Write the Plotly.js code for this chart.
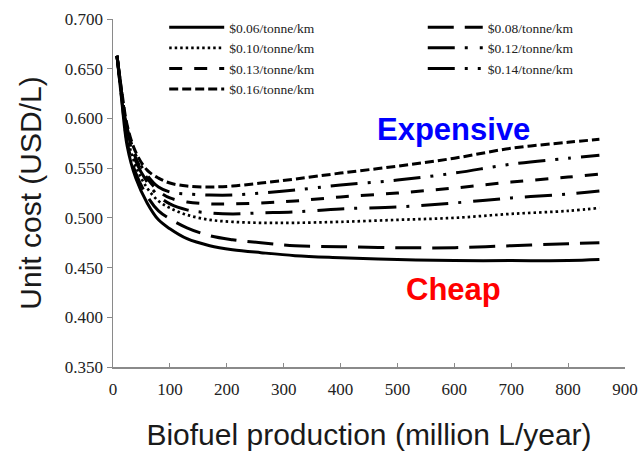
<!DOCTYPE html>
<html>
<head>
<meta charset="utf-8">
<script src="https://cdn.plot.ly/plotly-3.0.1.min.js"></script>
<style>html,body{margin:0;padding:0;background:#fff;}#chart{width:641px;height:455px;}</style>
</head>
<body>
<div id="chart"></div>
<script>
// Biofuel production (million L/year)
const production = [7, 15, 25, 40, 60, 80, 100, 130, 170, 210, 260, 320, 400, 500, 600, 700, 800, 855];

// Unit cost (USD/L) per transport price
const cost006 = [0.663, 0.620, 0.572, 0.540, 0.515, 0.498, 0.489, 0.479, 0.472, 0.468, 0.465, 0.462, 0.460, 0.458, 0.457, 0.457, 0.457, 0.458];
const cost008 = [0.663, 0.622, 0.576, 0.545, 0.522, 0.507, 0.499, 0.490, 0.482, 0.478, 0.475, 0.472, 0.471, 0.470, 0.470, 0.472, 0.474, 0.475];
const cost010 = [0.663, 0.624, 0.582, 0.552, 0.530, 0.517, 0.510, 0.503, 0.498, 0.496, 0.495, 0.495, 0.496, 0.498, 0.500, 0.504, 0.507, 0.510];
const cost012 = [0.663, 0.626, 0.586, 0.557, 0.536, 0.522, 0.514, 0.508, 0.505, 0.504, 0.505, 0.506, 0.509, 0.511, 0.515, 0.520, 0.524, 0.527];
const cost013 = [0.663, 0.627, 0.588, 0.560, 0.540, 0.527, 0.520, 0.516, 0.514, 0.514, 0.515, 0.517, 0.521, 0.525, 0.530, 0.536, 0.541, 0.544];
const cost014 = [0.663, 0.628, 0.590, 0.563, 0.543, 0.531, 0.526, 0.524, 0.523, 0.523, 0.525, 0.528, 0.533, 0.538, 0.545, 0.554, 0.560, 0.563];
const cost016 = [0.663, 0.629, 0.593, 0.566, 0.548, 0.540, 0.535, 0.532, 0.531, 0.532, 0.535, 0.539, 0.545, 0.552, 0.560, 0.570, 0.576, 0.579];

const seriesNames = ["$0.06/tonne/km", "$0.08/tonne/km", "$0.10/tonne/km", "$0.12/tonne/km", "$0.13/tonne/km", "$0.14/tonne/km", "$0.16/tonne/km"];
const seriesValues = [cost006, cost008, cost010, cost012, cost013, cost014, cost016];

const styles = [
  {dash: "solid", width: 3, legend: "legend"},
  {dash: "26px,11px", width: 3, legend: "legend2"},
  {dash: "2.5px,3px", width: 2.7, legend: "legend"},
  {dash: "27px,10px,3px,12px", width: 3, legend: "legend2"},
  {dash: "13px,12px", width: 3, legend: "legend"},
  {dash: "27px,10px,3px,10px,3px,10px", width: 3, legend: "legend2"},
  {dash: "9px,4px", width: 3, legend: "legend"}
];

const traces = seriesNames.map((name, i) => ({
  type: "scatter",
  mode: "lines",
  name: name,
  x: production,
  y: seriesValues[i],
  legend: styles[i].legend,
  line: {color: "#000000", width: styles[i].width, dash: styles[i].dash, shape: "spline", smoothing: 1}
}));

const serif = "Liberation Serif, Times New Roman, serif";
const sans = "Liberation Sans, Arial, sans-serif";

const layout = {
  width: 641,
  height: 455,
  margin: {l: 113, r: 16, t: 15, b: 88},
  paper_bgcolor: "#ffffff",
  plot_bgcolor: "#ffffff",
  showlegend: true,
  xaxis: {
    range: [0, 900],
    dtick: 100,
    tick0: 0,
    showgrid: false,
    zeroline: false,
    showline: true,
    linecolor: "#8a8a8a",
    linewidth: 1.5,
    ticks: "inside",
    ticklen: 4,
    tickcolor: "#8a8a8a",
    ticklabelstandoff: 6,
    tickfont: {family: serif, size: 17, color: "#222222"},
    title: {text: "Biofuel production (million L/year)", font: {family: sans, size: 30, color: "#1a1a1a"}, standoff: 26}
  },
  yaxis: {
    range: [0.35, 0.70],
    dtick: 0.05,
    tick0: 0.35,
    tickformat: ".3f",
    showgrid: false,
    zeroline: false,
    showline: true,
    linecolor: "#8a8a8a",
    linewidth: 1.5,
    ticks: "outside",
    ticklen: 5,
    tickcolor: "#8a8a8a",
    tickfont: {family: serif, size: 17, color: "#222222"},
    title: {text: "Unit cost (USD/L)", font: {family: sans, size: 30, color: "#1a1a1a"}, standoff: 14}
  },
  legend: {
    x: 0.1, y: 1.02, xanchor: "left", yanchor: "top",
    bgcolor: "rgba(0,0,0,0)",
    font: {family: serif, size: 13.5, color: "#222222"},
    itemwidth: 55,
    tracegroupgap: 0
  },
  legend2: {
    x: 0.605, y: 1.02, xanchor: "left", yanchor: "top",
    bgcolor: "rgba(0,0,0,0)",
    font: {family: serif, size: 13.5, color: "#222222"},
    itemwidth: 55,
    tracegroupgap: 0
  },
  annotations: [
    {x: 599, y: 0.589, xref: "x", yref: "y", text: "<b>Expensive</b>", showarrow: false,
     font: {family: sans, size: 31, color: "#0000ff"}},
    {x: 599, y: 0.428, xref: "x", yref: "y", text: "<b>Cheap</b>", showarrow: false,
     font: {family: sans, size: 31, color: "#ff0000"}}
  ]
};

Plotly.newPlot("chart", traces, layout, {displayModeBar: false, staticPlot: true});
</script>
</body>
</html>
